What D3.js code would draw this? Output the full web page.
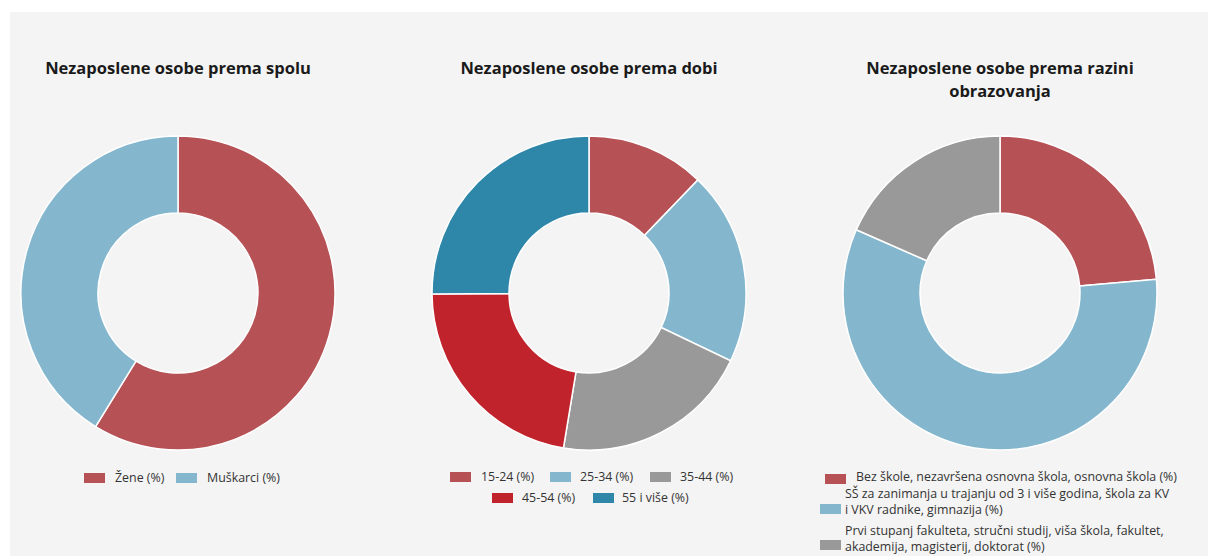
<!DOCTYPE html>
<html>
<head>
<meta charset="utf-8">
<script src="https://cdn.jsdelivr.net/npm/d3@7"></script>
<style>
  body { margin: 0; background: #fff; }
  svg { display: block; font-family: "Open Sans", "DejaVu Sans", sans-serif; }
</style>
</head>
<body>
<div id="chart"></div>
<script>
// data
var spolLabels = ["Žene (%)", "Muškarci (%)"];
var spolValues = [58.8, 41.2];

var dobLabels = ["15-24 (%)", "25-34 (%)", "35-44 (%)", "45-54 (%)", "55 i više (%)"];
var dobValues = [12.2, 19.9, 20.5, 22.3, 25.1];

var obrLabels = [
  "Bez škole, nezavršena osnovna škola, osnovna škola (%)",
  "SŠ za zanimanja u trajanju od 3 i više godina, škola za KV|i VKV radnike, gimnazija (%)",
  "Prvi stupanj fakulteta, stručni studij, viša škola, fakultet,|akademija, magisterij, doktorat (%)"
];
var obrValues = [23.6, 58.0, 18.4];

var width = 1208, height = 556;

var svg = d3.select("#chart").append("svg")
    .attr("width", width)
    .attr("height", height);

svg.append("rect")
    .attr("x", 10).attr("y", 12)
    .attr("width", width - 10).attr("height", height - 12)
    .attr("fill", "#f4f4f4");

var outerR = 157, innerR = 80;

var arc = d3.arc().innerRadius(innerR).outerRadius(outerR);
var pie = d3.pie().sort(null).value(function(d) { return d; });

function drawDonut(cx, cy, values, colors) {
  var g = svg.append("g")
      .attr("transform", "translate(" + cx + "," + cy + ")");
  g.selectAll("path")
      .data(pie(values))
      .enter().append("path")
      .attr("d", arc)
      .attr("fill", function(d, i) { return colors[i]; })
      .attr("stroke", "#fff")
      .attr("stroke-width", 1.5);
}

// one text per line so the lines don't share a box
function drawTitle(cx, lines) {
  lines.forEach(function(l, i) {
    svg.append("text")
        .attr("text-anchor", "middle")
        .attr("font-size", 16.5)
        .attr("font-weight", "bold")
        .attr("fill", "#1a1a1a")
        .attr("x", cx)
        .attr("y", 74 + i * 22.5)
        .text(l);
  });
}

// legend items: swatch pos, text pos, label, colour
function drawLegend(items) {
  var g = svg.append("g");
  items.forEach(function(it) {
    g.append("rect")
        .attr("x", it.sx).attr("y", it.sy - 5)
        .attr("width", 21).attr("height", 10)
        .attr("fill", it.color);
    var lines = it.label.split("|");
    var t = g.append("text")
        .attr("font-size", 12.4)
        .attr("fill", "#333");
    lines.forEach(function(l, i) {
      t.append("tspan")
          .attr("x", it.tx)
          .attr("y", it.ty + i * 16)
          .attr("dy", "0.35em")
          .text(l);
    });
  });
}

var cRed = "#b65155", cBlue = "#84b7cd", cGray = "#999999", cRed2 = "#c0232b", cTeal = "#2e86a9";

var spolColors = [cRed, cBlue];
var dobColors = [cRed, cBlue, cGray, cRed2, cTeal];
var obrColors = [cRed, cBlue, cGray];

drawTitle(178, ["Nezaposlene osobe prema spolu"]);
drawTitle(589, ["Nezaposlene osobe prema dobi"]);
drawTitle(1000, ["Nezaposlene osobe prema razini", "obrazovanja"]);

drawDonut(178, 293, spolValues, spolColors);
drawDonut(589, 293, dobValues, dobColors);
drawDonut(1000, 293, obrValues, obrColors);

drawLegend([
  {sx: 84, sy: 478, tx: 115, ty: 478, label: spolLabels[0], color: spolColors[0]},
  {sx: 176, sy: 478, tx: 207, ty: 478, label: spolLabels[1], color: spolColors[1]}
]);

drawLegend([
  {sx: 450, sy: 477, tx: 481, ty: 477, label: dobLabels[0], color: dobColors[0]},
  {sx: 550, sy: 477, tx: 580, ty: 477, label: dobLabels[1], color: dobColors[1]},
  {sx: 650, sy: 477, tx: 680, ty: 477, label: dobLabels[2], color: dobColors[2]},
  {sx: 492, sy: 498, tx: 522, ty: 498, label: dobLabels[3], color: dobColors[3]},
  {sx: 593, sy: 498, tx: 622, ty: 498, label: dobLabels[4], color: dobColors[4]}
]);

drawLegend([
  {sx: 825, sy: 479, tx: 856, ty: 477, label: obrLabels[0], color: obrColors[0]},
  {sx: 820, sy: 509, tx: 845, ty: 494, label: obrLabels[1], color: obrColors[1]},
  {sx: 820, sy: 545, tx: 845, ty: 531, label: obrLabels[2], color: obrColors[2]}
]);
</script>
</body>
</html>
